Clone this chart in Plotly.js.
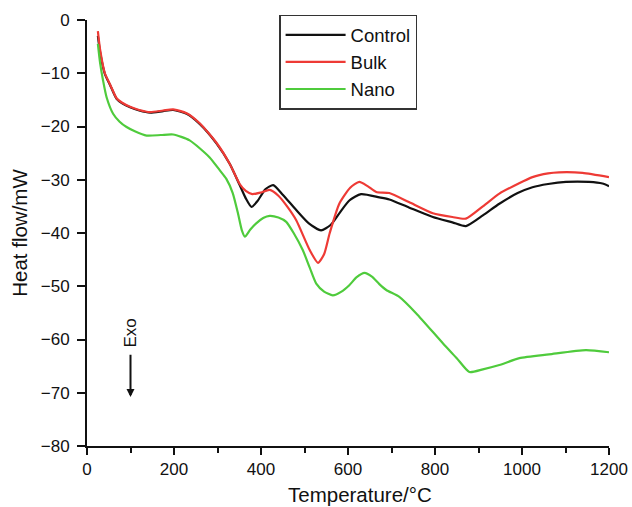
<!DOCTYPE html>
<html>
<head>
<meta charset="utf-8">
<script src="https://cdn.plot.ly/plotly-3.0.1.min.js"></script>
<style>html,body{margin:0;padding:0;background:#fff;}#chart{width:632px;height:507px;}</style>
</head>
<body>
<div id="chart"></div>
<script>
// Temperature (°C) and heat flow (mW)
const controlT = [25, 30, 41, 53, 68, 80, 99, 120, 145, 175, 198, 229, 259, 298, 328, 351, 365, 378, 392, 410, 428, 450, 481, 510, 538, 560, 580, 603, 630, 672, 695, 740, 795, 840, 871, 910, 948, 990, 1024, 1060, 1101, 1154, 1185, 1200];
const controlH = [-3, -6, -10.1, -12.2, -14.8, -15.6, -16.4, -17.0, -17.4, -17.1, -16.9, -17.6, -19.5, -23.2, -27, -31, -33.5, -35.1, -34, -31.8, -31.0, -32.8, -35.7, -38.2, -39.5, -38.5, -36.3, -33.9, -32.7, -33.3, -33.7, -35.2, -37.0, -38.0, -38.7, -36.7, -34.5, -32.5, -31.4, -30.8, -30.4, -30.4, -30.7, -31.2];

const bulkT = [25, 30, 41, 53, 68, 80, 99, 120, 145, 175, 198, 229, 259, 298, 328, 351, 365, 380, 400, 420, 440, 460, 481, 512, 531, 545, 558, 580, 605, 626, 645, 665, 695, 740, 795, 840, 871, 910, 948, 990, 1024, 1060, 1085, 1139, 1200];
const bulkH = [-2.1, -5.5, -10, -12.1, -14.7, -15.5, -16.3, -16.9, -17.3, -17.0, -16.8, -17.5, -19.4, -23.1, -27, -30.8, -32.1, -32.7, -32.4, -31.9, -33, -35, -37.6, -43.2, -45.6, -44, -40, -34.5, -31.5, -30.4, -31.2, -32.3, -32.5, -34.2, -36.3, -37.0, -37.3, -35, -32.6, -30.8, -29.5, -28.8, -28.6, -28.7, -29.5];

const nanoT = [25, 30, 37, 45, 60, 75, 91, 110, 137, 170, 198, 236, 282, 305, 320, 335, 347, 356, 363, 375, 389, 405, 420, 440, 458, 475, 496, 512, 527, 545, 565, 585, 603, 620, 638, 655, 672, 688, 718, 757, 818, 850, 879, 910, 948, 994, 1062, 1147, 1200];
const nanoH = [-4.5, -8, -11.4, -14.5, -17.6, -19.1, -20.1, -20.9, -21.7, -21.6, -21.5, -22.6, -25.8, -28.2, -29.8, -32.5, -36.3, -39.5, -40.7, -39.4, -38.2, -37.2, -36.8, -37.1, -37.9, -40.0, -43.2, -46.5, -49.5, -51.0, -51.7, -51.0, -49.8, -48.3, -47.5, -48.2, -49.6, -50.7, -52.0, -55.1, -60.7, -63.5, -66.1, -65.6, -64.8, -63.5, -62.8, -62.0, -62.4];

const seriesNames = ['Control', 'Bulk', 'Nano'];
const xTickVals = [0, 200, 400, 600, 800, 1000, 1200];
const yTickVals = [0, -10, -20, -30, -40, -50, -60, -70, -80];
const xTitle = 'Temperature/°C';
const yTitle = 'Heat flow/mW';

const FONT = 'Liberation Sans, Arial, Helvetica, sans-serif';

const traces = [
  {x: controlT, y: controlH, name: seriesNames[0], mode: 'lines', line: {color: '#111111', width: 2.2, shape: 'spline', smoothing: 0.6}},
  {x: bulkT, y: bulkH, name: seriesNames[1], mode: 'lines', line: {color: '#ee3a35', width: 2.2, shape: 'spline', smoothing: 0.6}},
  {x: nanoT, y: nanoH, name: seriesNames[2], mode: 'lines', line: {color: '#4fcb3c', width: 2.2, shape: 'spline', smoothing: 0.6}}
];

const layout = {
  width: 632, height: 507,
  margin: {l: 87, r: 23, t: 20, b: 61},
  paper_bgcolor: '#ffffff', plot_bgcolor: '#ffffff',
  font: {family: FONT, size: 17, color: '#111111'},
  showlegend: true,
  legend: {
    x: 0.368, y: 1.012, xanchor: 'left', yanchor: 'top',
    bordercolor: '#333333', borderwidth: 1.5, bgcolor: '#ffffff',
    font: {family: FONT, size: 18.5, color: '#111111'},
    itemwidth: 60, tracegroupgap: 0
  },
  xaxis: {
    range: [0, 1200], tickvals: xTickVals, ticks: 'outside', ticklen: 7, tickwidth: 2, tickcolor: '#111',
    showline: true, linecolor: '#111', linewidth: 2, showgrid: false, zeroline: false,
    minor: {dtick: 100, tick0: 0, ticks: 'outside', ticklen: 5, tickwidth: 2, tickcolor: '#111', showgrid: false},
    tickfont: {family: FONT, size: 17, color: '#111'}
  },
  yaxis: {
    range: [-80, 0], tickvals: yTickVals, ticks: 'outside', ticklen: 8, tickwidth: 2, tickcolor: '#111',
    showline: true, linecolor: '#111', linewidth: 2, showgrid: false, zeroline: false,
    ticklabelstandoff: 4,
    tickfont: {family: FONT, size: 17, color: '#111'},
    title: {text: yTitle, font: {family: FONT, size: 20.5, color: '#111'}, standoff: 8}
  },
  annotations: [
    {x: 0.523, y: -0.115, xref: 'paper', yref: 'paper', text: xTitle, showarrow: false,
     xanchor: 'center', yanchor: 'middle', font: {family: FONT, size: 20.5, color: '#111'}},
    {x: 100, y: -58.8, xref: 'x', yref: 'y', text: 'Exo', showarrow: false, textangle: -90,
     font: {family: FONT, size: 17, color: '#111'}},
    {x: 100, y: -70.8, ax: 100, ay: -62.6, xref: 'x', yref: 'y', axref: 'x', ayref: 'y',
     text: '', showarrow: true, arrowhead: 2, arrowsize: 0.8, arrowwidth: 2, arrowcolor: '#111'}
  ]
};

Plotly.newPlot('chart', traces, layout, {displayModeBar: false, staticPlot: true});
</script>
</body>
</html>
